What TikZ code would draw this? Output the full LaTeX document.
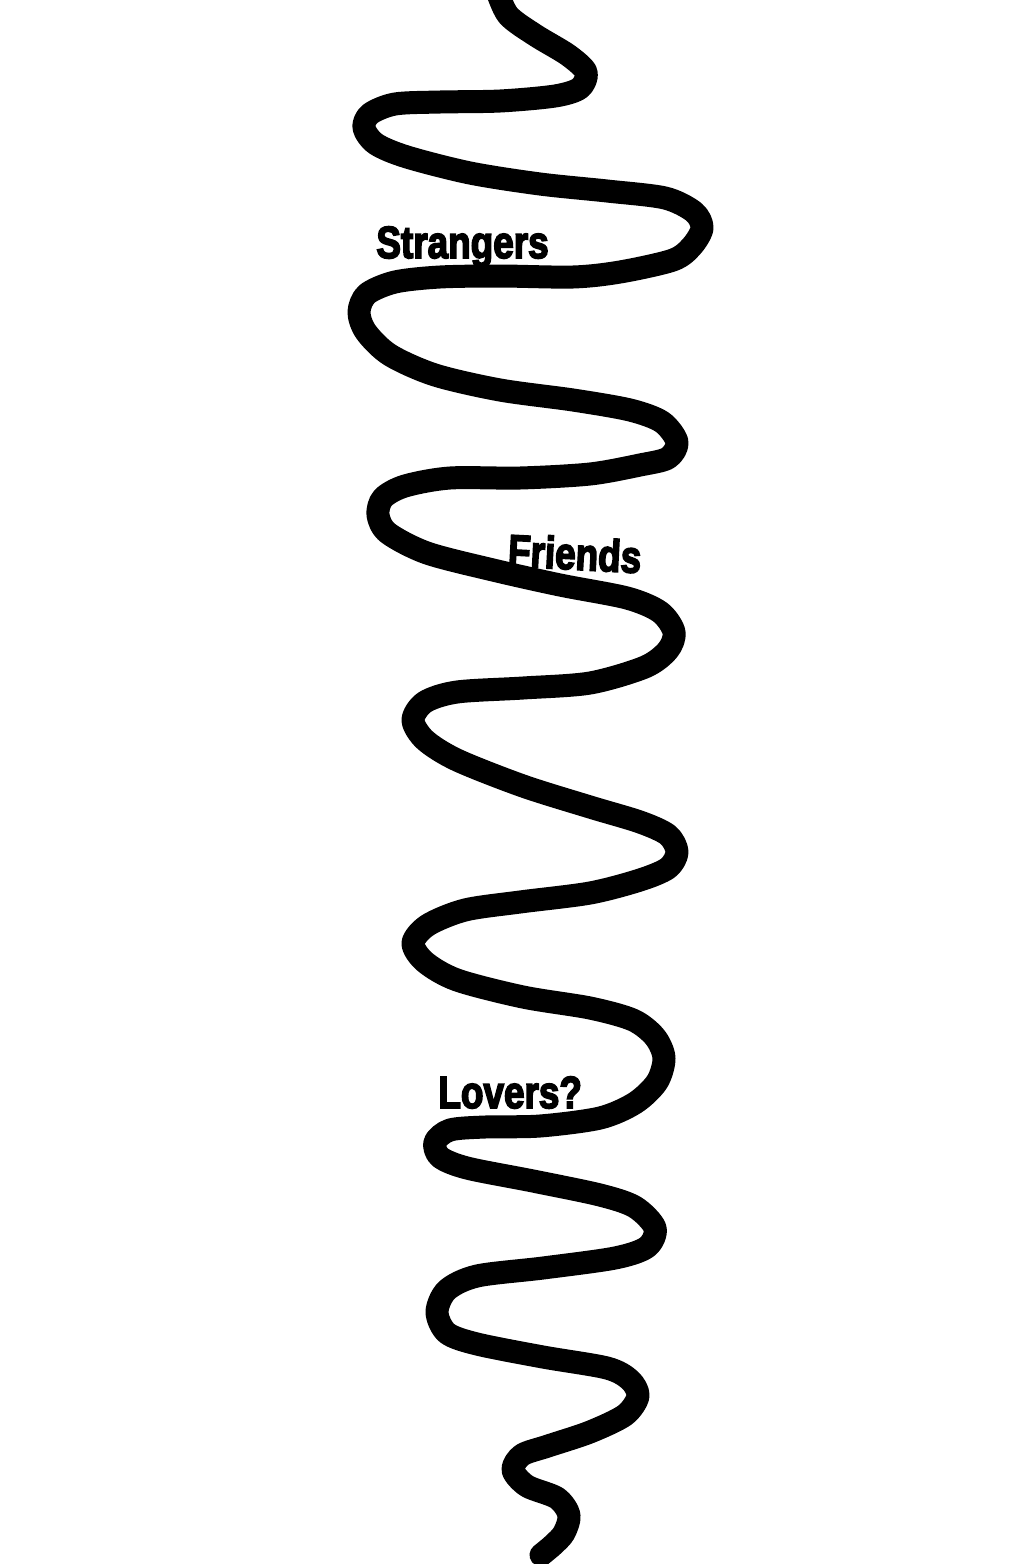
\documentclass[tikz,border=0pt]{standalone}
\usepackage{fontspec}
\usepackage{tikz}
\newfontfamily\tagfont[FakeBold=4,BoldFeatures={FakeBold=4}]{Liberation Sans}
\tikzset{
  squiggle/.style={draw=black,line width=11.5pt,line cap=round,line join=round},
  wordtag/.style={anchor=base west,inner sep=0pt,text=black,
                  font=\tagfont\bfseries\fontsize{22.5}{26}\selectfont}
}
\newcommand{\narrow}[1]{\scalebox{0.82}[1]{#1}}

\begin{document}
\begin{tikzpicture}[x=0.5pt,y=-0.5pt]
  \useasboundingbox (0,0) rectangle (1032,1564);
  % the long wavy line
  \draw[squiggle] plot[smooth,tension=0.5] coordinates {
    (496,-12) (508,15) (535,35) (568,55) (586,72) (580,88) (555,96) (500,101)
    (440,102) (395,104) (370,114) (364,128) (376,144) (407,157) (470,173)
    (540,184) (607,191) (665,198) (694,212) (702,228) (692,246) (673,260)
    (620,272) (573,277) (500,276) (440,277) (395,282) (367,294) (359,312)
    (366,332) (390,355) (435,375) (500,390) (573,400) (630,410) (662,422)
    (677,442) (668,458) (640,465) (590,474) (520,478) (450,478) (405,486)
    (383,498) (378,515) (388,533) (427,553) (493,570) (560,585) (627,598)
    (660,612) (674,632) (668,650) (645,667) (590,683) (523,688) (457,692)
    (425,702) (413,720) (425,740) (457,760) (523,786) (590,807) (640,822)
    (668,835) (677,852) (668,868) (640,880) (590,893) (520,902) (465,910)
    (428,925) (413,943) (425,962) (457,980) (523,997) (590,1008) (633,1020)
    (655,1037) (664,1058) (657,1082) (635,1103) (600,1118) (540,1126)
    (485,1127) (450,1130) (435,1142) (440,1157) (467,1168) (533,1181)
    (600,1195) (635,1207) (655,1228) (647,1247) (615,1258) (543,1268)
    (477,1276) (447,1290) (437,1312) (447,1333) (477,1344) (543,1357)
    (607,1368) (630,1380) (638,1396) (625,1415) (590,1432) (548,1446)
    (522,1455) (513,1470) (527,1486) (557,1498) (569,1515) (564,1533)
    (553,1545) (541,1555)};
  % words along it
  \node[wordtag] (strangers) at (376,258) {\narrow{Strangers}};
  \node[wordtag,rotate=-3] (friends) at (507,566) {\narrow{Friends}};
  \node[wordtag] (lovers) at (438,1108) {\narrow{Lovers?}};
\end{tikzpicture}
\end{document}
